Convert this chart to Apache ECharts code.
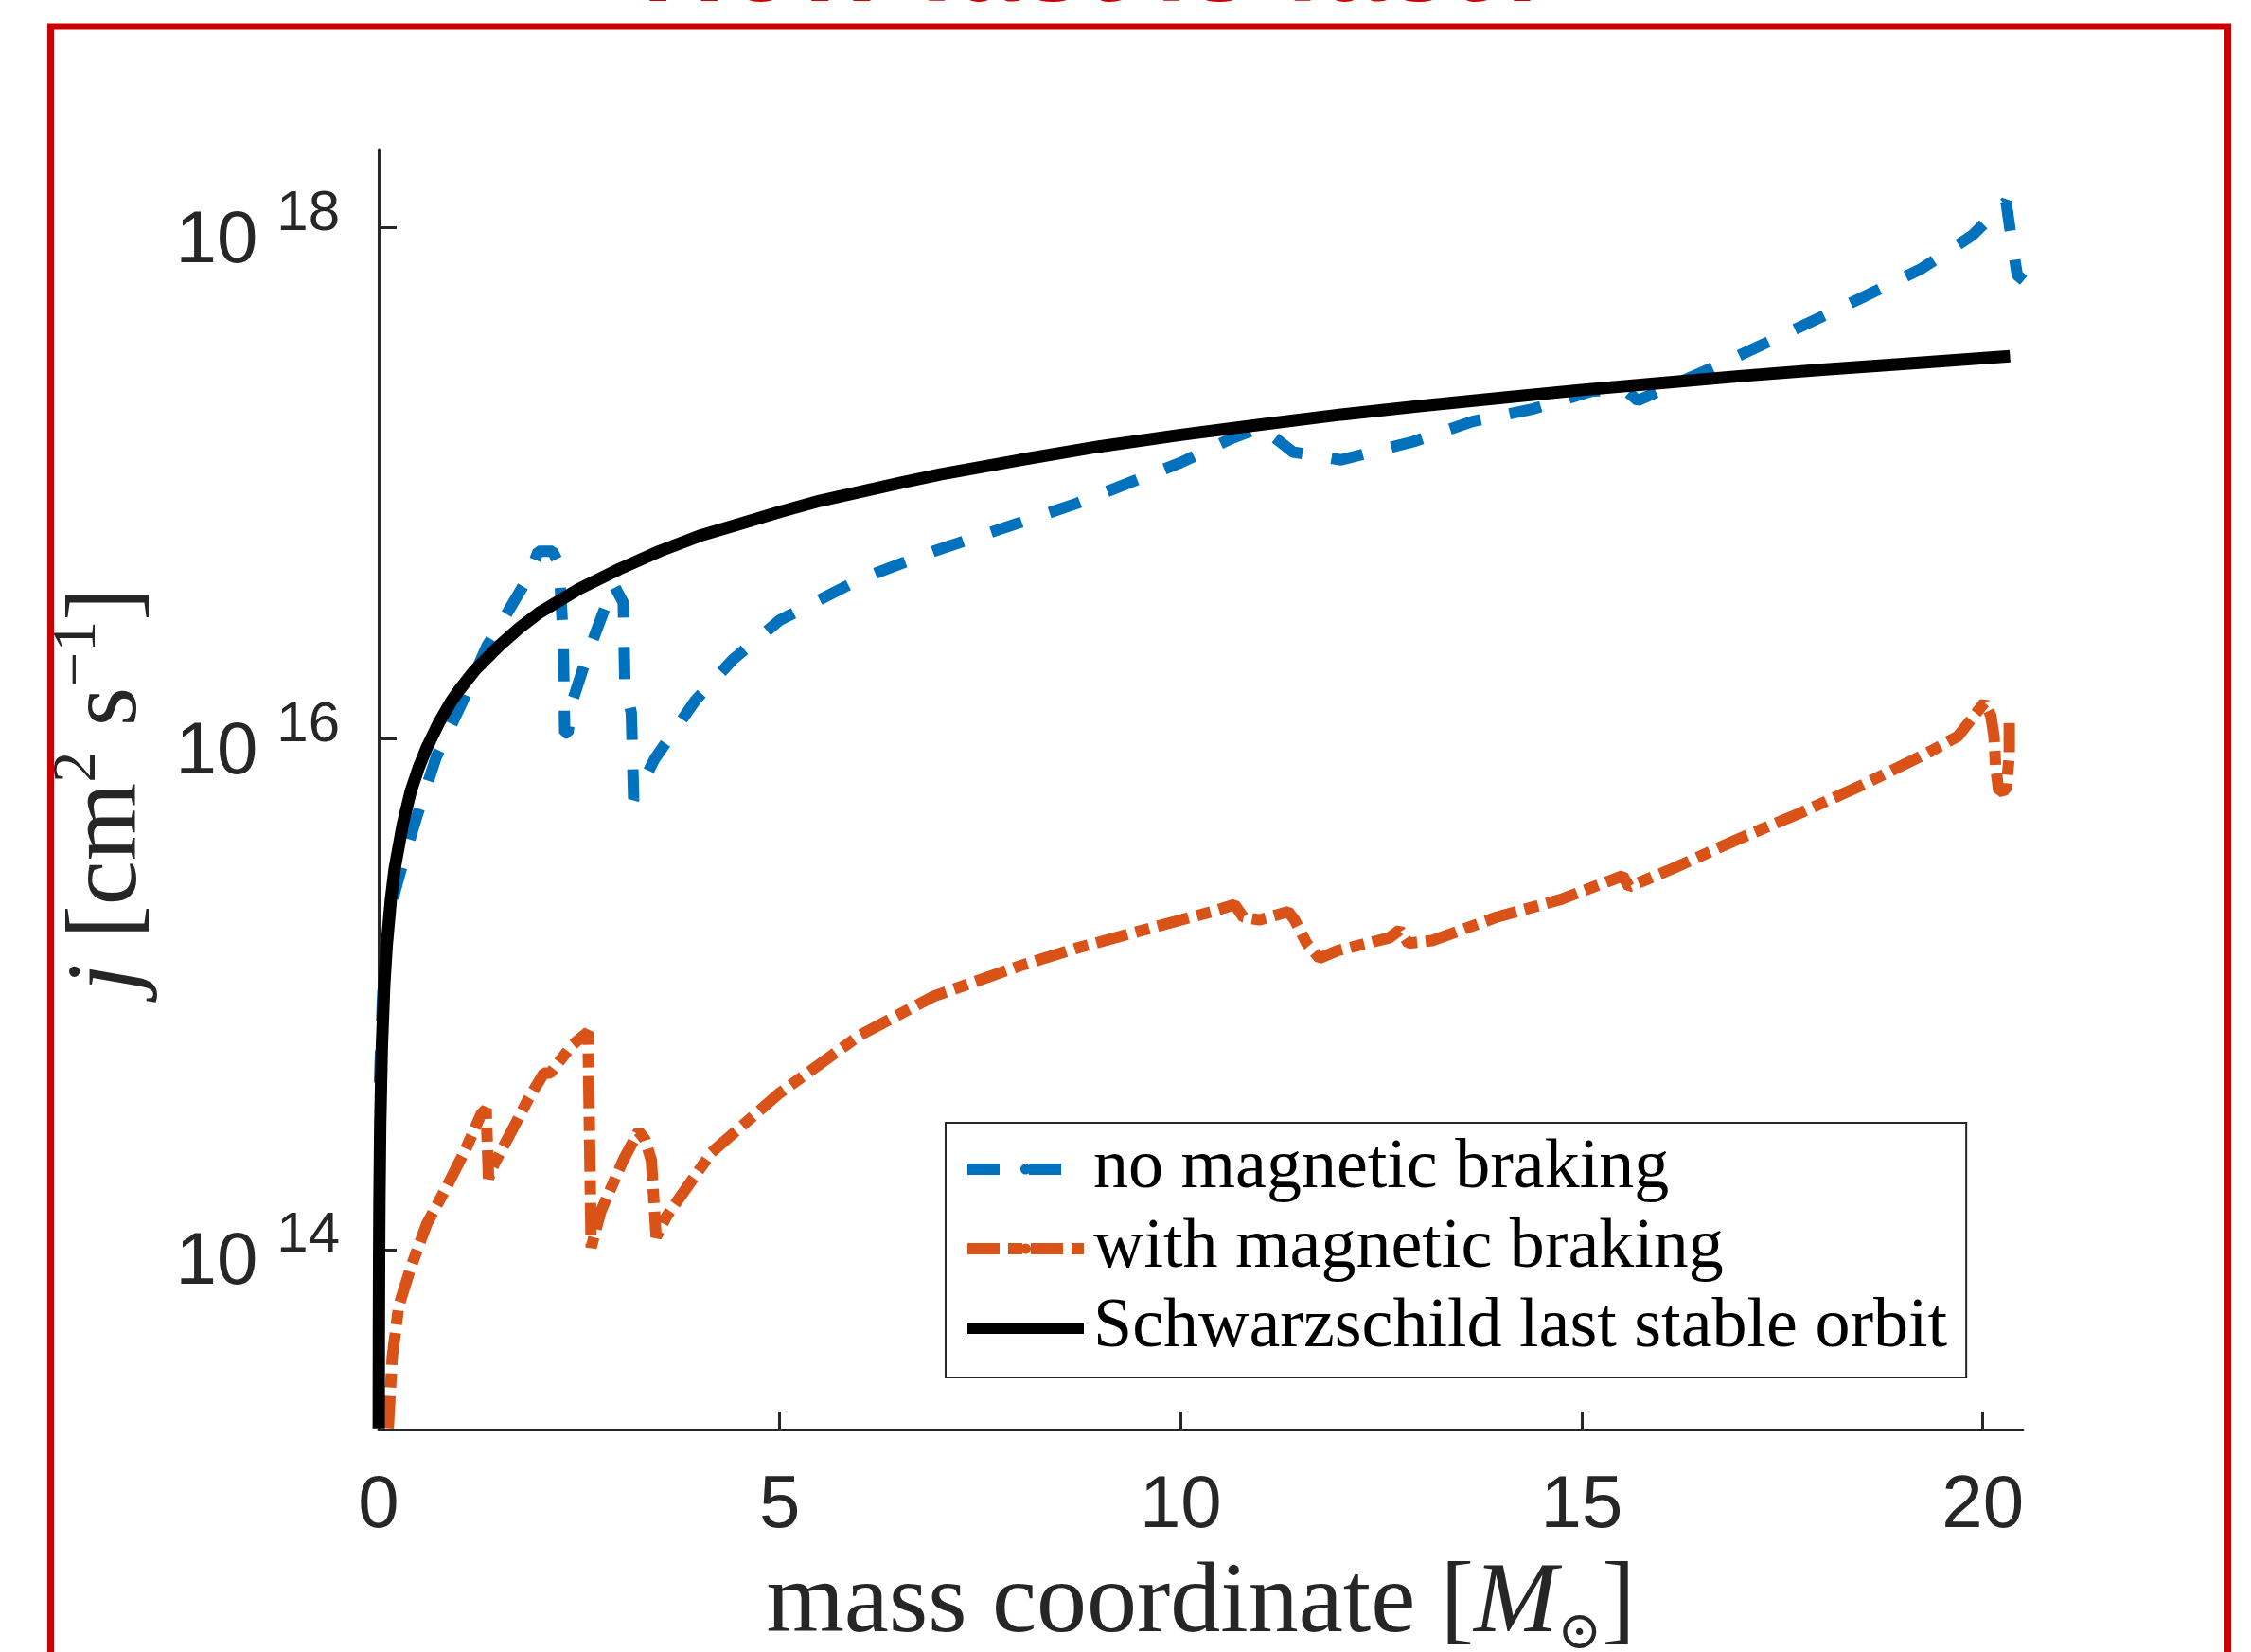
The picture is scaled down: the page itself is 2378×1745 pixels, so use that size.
<!DOCTYPE html>
<html>
<head>
<meta charset="utf-8">
<script src="https://cdn.jsdelivr.net/npm/echarts@6/dist/echarts.min.js"></script>
<style>
html, body { margin: 0; padding: 0; background: #fff; }
#main { width: 2378px; height: 1745px; }
</style>
</head>
<body>
<div id="main"></div>
<script>
// mass coordinate [Msun] and specific angular momentum j [cm^2 s^-1]
var massNoMB = [0.01, 0.05, 0.12, 0.2, 0.33, 0.48, 0.72, 1.04, 1.35, 1.63, 1.87, 1.99, 2.17, 2.25, 2.30, 2.32, 2.36, 2.41, 2.61, 2.93,
    3.05, 3.07, 3.15, 3.18, 3.25, 3.44, 3.95, 4.42, 5.0, 6.0, 6.92, 8.0, 8.7, 10.0, 10.65, 11.0, 11.2, 11.4, 12.0, 12.9,
    13.64, 14.4, 15.13, 15.55, 15.7, 16.77, 17.86, 18.53, 19.24, 19.87, 20.29, 20.34, 20.43, 20.51];
var jNoMB = [4.5e14, 1.0e15, 1.8e15, 2.5e15, 3.5e15, 5.0e15, 8.5e15, 1.38e16, 2.3e16, 3.2e16, 4.3e16, 5.4e16, 5.4e16, 4.8e16, 2.5e16, 1.05e16, 1.05e16, 1.38e16, 2.15e16, 4.0e16,
    3.4e16, 1.66e16, 1.26e16, 5.8e15, 6.3e15, 8.3e15, 1.41e16, 2.04e16, 2.9e16, 4.2e16, 5.4e16, 7.0e16, 8.3e16, 1.2e17, 1.5e17, 1.65e17, 1.48e17, 1.32e17, 1.23e17, 1.45e17,
    1.74e17, 1.95e17, 2.29e17, 2.3e17, 2.1e17, 2.95e17, 4.27e17, 5.37e17, 6.9e17, 9.3e17, 1.26e18, 9.8e17, 6.5e17, 6.2e17];

var massMB = [0.12, 0.17, 0.25, 0.40, 0.60, 0.84, 1.08, 1.28, 1.34, 1.37, 1.42, 1.63, 1.87, 2.06, 2.14, 2.41, 2.61, 2.65, 2.77, 3.05,
    3.24, 3.32, 3.40, 3.46, 3.59, 4.15, 5.0, 6.0, 6.92, 8.0, 8.7, 10.0, 10.39, 10.67, 10.78, 10.98, 11.34, 11.42, 11.57, 11.73,
    11.96, 12.60, 12.73, 12.84, 13.14, 13.94, 14.73, 15.51, 15.59, 16.14, 16.92, 17.72, 18.51, 19.29, 19.69, 19.84, 20.02, 20.10, 20.14, 20.16,
    20.20, 20.29, 20.33, 20.33];
var jMB = [2.0e13, 3.8e13, 6.0e13, 8.5e13, 1.26e14, 1.74e14, 2.45e14, 3.4e14, 3.55e14, 1.9e14, 2.1e14, 2.8e14, 3.9e14, 4.9e14, 4.9e14, 6.3e14, 7.1e14, 1.02e14, 1.41e14, 2.24e14,
    2.9e14, 2.7e14, 2.24e14, 1.12e14, 1.35e14, 2.4e14, 4.1e14, 6.9e14, 9.8e14, 1.29e15, 1.51e15, 1.95e15, 2.1e15, 2.24e15, 2.0e15, 1.95e15, 2.1e15, 1.95e15, 1.58e15, 1.38e15,
    1.48e15, 1.66e15, 1.78e15, 1.58e15, 1.62e15, 2.0e15, 2.34e15, 2.9e15, 2.63e15, 3.1e15, 4.0e15, 5.1e15, 6.6e15, 8.7e15, 1.02e16, 1.17e16, 1.38e16, 1.23e16, 1.02e16, 7.8e15,
    6.2e15, 6.3e15, 8.5e15, 1.15e16];

var massISCO = [0.0013, 0.003, 0.006, 0.01, 0.02, 0.04, 0.07, 0.1, 0.15, 0.2, 0.3, 0.4, 0.5, 0.6, 0.75, 0.9, 1, 1.2, 1.5, 1.75,
    2, 2.5, 3, 3.5, 4, 4.5, 5, 5.5, 6.5, 7, 8, 9, 10, 11, 12, 13, 14, 15, 16, 17, 18, 19, 20.34];
var jISCO = [2.0e13, 4.6e13, 9.2e13, 1.54e14, 3.1e14, 6.2e14, 1.08e15, 1.54e15, 2.3e15, 3.1e15, 4.6e15, 6.2e15, 7.7e15, 9.2e15, 1.15e16, 1.39e16, 1.54e16, 1.85e16, 2.3e16, 2.7e16,
    3.1e16, 3.85e16, 4.6e16, 5.4e16, 6.2e16, 6.9e16, 7.7e16, 8.5e16, 1.0e17, 1.08e17, 1.23e17, 1.39e17, 1.54e17, 1.69e17, 1.85e17, 2.0e17, 2.15e17, 2.31e17, 2.46e17, 2.62e17, 2.77e17, 2.92e17, 3.13e17];

var seriesNames = ['no magnetic braking', 'with magnetic braking', 'Schwarzschild last stable orbit'];
var xTicks = [0, 5, 10, 15, 20];
var yTicks = [1e14, 1e16, 1e18];

function pairs(xs, ys) {
    return xs.map(function (x, i) { return [x, ys[i]]; });
}

var dom = document.getElementById('main');
var myChart = echarts.init(dom, null, { renderer: 'canvas' });

var axisColor = '#262626';

var option = {
    animation: false,
    backgroundColor: '#fff',
    grid: { left: 400, right: 241, top: 158, bottom: 235, containLabel: false, outerBoundsMode: 'none' },
    graphic: [
        {
            type: 'rect', silent: true,
            shape: { x: 53.5, y: 28, width: 2300, height: 1800 },
            style: { fill: null, stroke: '#cc0000', lineWidth: 7 }
        },
        {
            // title of the slide, cut off by the top edge
            type: 'text', silent: true, x: 1163, y: -33,
            style: {
                text: 'How fast is fast?', fill: '#cc0000',
                fontFamily: 'Liberation Sans', fontWeight: 'bold', fontSize: 122,
                align: 'center', verticalAlign: 'middle'
            }
        }
    ],
    legend: {
        data: seriesNames,
        orient: 'vertical',
        left: 999, top: 1186,
        padding: [7, 20, 10, 17],
        itemWidth: 123, itemHeight: 14, itemGap: 0,
        borderColor: axisColor, borderWidth: 2,
        backgroundColor: '#fff',
        selectedMode: false,
        lineStyle: { width: 12 },
        textStyle: {
            fontFamily: 'Liberation Serif', fontSize: 74, lineHeight: 84,
            color: '#000', padding: [0, 0, 0, 5]
        }
    },
    xAxis: {
        type: 'value', min: 0, max: 20.5,
        name: '{t|mass coordinate [}{m|M}{o|⊙}{t|]}',
        nameLocation: 'middle', nameGap: 123,
        nameTextStyle: {
            rich: {
                t: { fontFamily: 'Liberation Serif', fontSize: 106, lineHeight: 120, color: axisColor },
                m: { fontFamily: 'Liberation Serif', fontStyle: 'italic', fontSize: 106, lineHeight: 120, color: axisColor },
                o: { fontFamily: 'DejaVu Serif', fontSize: 56, lineHeight: 56, padding: [64, 0, 0, 0], verticalAlign: 'top', color: axisColor }
            }
        },
        axisLine: { show: true, lineStyle: { color: axisColor, width: 3 } },
        axisTick: { show: true, inside: true, length: 19, customValues: xTicks, lineStyle: { color: axisColor, width: 3 } },
        axisLabel: {
            customValues: xTicks, margin: 42,
            fontFamily: 'Liberation Sans', fontSize: 78, color: axisColor
        },
        splitLine: { show: false }
    },
    yAxis: {
        type: 'log', logBase: 10, min: 1.977e13, max: 2.014e18,
        name: '{j|j}{t| [cm}{s|2}{t| s}{s|\u22121}{t|]}',
        nameLocation: 'middle', nameGap: 232, nameRotate: 90,
        nameTextStyle: {
            rich: {
                t: { fontFamily: 'Liberation Serif', fontSize: 106, lineHeight: 106, verticalAlign: 'bottom', color: axisColor },
                j: { fontFamily: 'Liberation Serif', fontStyle: 'italic', fontSize: 106, lineHeight: 106, verticalAlign: 'bottom', color: axisColor },
                s: { fontFamily: 'Liberation Serif', fontSize: 66, lineHeight: 66, padding: [0, 0, 52, 0], verticalAlign: 'bottom', color: axisColor }
            }
        },
        axisLine: { show: true, lineStyle: { color: axisColor, width: 3 } },
        axisTick: { show: true, inside: true, length: 19, customValues: yTicks, lineStyle: { color: axisColor, width: 3 } },
        minorTick: { show: false },
        axisLabel: {
            customValues: yTicks, margin: 41,
            padding: [30, 0, 0, 0],
            formatter: function (v) {
                return '{b|10}{e|' + Math.round(Math.log10(v)) + '}';
            },
            rich: {
                b: { fontFamily: 'Liberation Sans', fontSize: 78, lineHeight: 78, verticalAlign: 'bottom', color: axisColor },
                e: { fontFamily: 'Liberation Sans', fontSize: 60, lineHeight: 60, padding: [0, 0, 38, 20], verticalAlign: 'bottom', color: axisColor }
            }
        },
        splitLine: { show: false }
    },
    series: [
        {
            name: seriesNames[0], type: 'line', symbol: 'none', z: 2,
            data: pairs(massNoMB, jNoMB),
            itemStyle: { color: '#0072BD' },
            lineStyle: { color: '#0072BD', width: 12, type: [34, 31], cap: 'butt' }
        },
        {
            name: seriesNames[1], type: 'line', symbol: 'none', z: 3,
            data: pairs(massMB, jMB),
            itemStyle: { color: '#D95319' },
            lineStyle: { color: '#D95319', width: 12, type: [34, 9, 15, 9], cap: 'butt' }
        },
        {
            name: seriesNames[2], type: 'line', symbol: 'none', z: 4,
            data: pairs(massISCO, jISCO),
            itemStyle: { color: '#000' },
            lineStyle: { color: '#000', width: 13, type: 'solid' }
        }
    ]
};

if (option && typeof option === 'object') {
    myChart.setOption(option, true);
}
</script>
</body>
</html>
